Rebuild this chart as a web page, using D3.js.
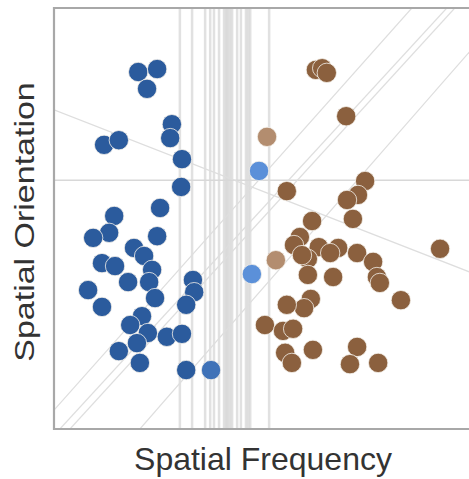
<!DOCTYPE html>
<html>
<head>
<meta charset="utf-8">
<script src="https://cdn.jsdelivr.net/npm/d3@7"></script>
<style>
  body { margin: 0; background: #fff; }
  svg { display: block; }
</style>
</head>
<body>
<div id="chart"></div>
<script>
'use strict';

// points, in data units (0-100 on both axes)
var blueX = [20.0, 24.5, 22.1, 28.0, 27.6, 11.9, 15.4, 30.4, 30.2, 25.2, 14.3, 13.1, 9.3, 24.5, 19.0, 21.4, 11.4, 14.5,
             23.3, 22.6, 17.6, 8.1, 24.0, 33.0, 33.3, 31.4, 11.4, 20.9, 18.1, 22.3, 19.7, 26.8, 30.4, 15.4, 20.4, 31.4];
var blueY = [84.8, 85.5, 80.8, 72.4, 69.1, 67.5, 68.6, 64.1, 57.5, 52.5, 50.6, 46.6, 45.4, 45.8, 43.0, 41.1, 39.4, 38.7,
             37.8, 34.9, 34.9, 33.0, 31.1, 35.4, 32.5, 29.5, 29.0, 26.8, 24.7, 22.8, 20.4, 21.9, 22.6, 18.5, 15.7, 14.0];
var lightBlueX = [37.3, 48.7, 47.0];
var lightBlueY = [14.0, 61.3, 36.8];
var lightBlueTone = [1, 2, 2];

var brownX = [62.2, 63.7, 64.8, 69.4, 55.3, 73.9, 72.2, 69.6, 61.3, 71.0, 91.7, 58.4, 57.0, 62.9, 67.5, 65.6, 60.3, 58.9,
              72.0, 75.8, 60.3, 66.3, 76.7, 77.4, 82.4, 61.0, 59.4, 55.3, 50.1, 54.4, 56.8, 61.5, 54.9, 56.5, 72.0, 70.3, 77.0];
var brownY = [85.3, 85.7, 84.6, 74.3, 56.5, 58.9, 55.6, 54.4, 49.4, 49.9, 42.8, 45.6, 43.7, 43.2, 43.0, 41.8, 40.4, 41.3,
              41.8, 39.7, 36.6, 36.1, 36.1, 34.7, 30.6, 30.9, 28.7, 29.5, 24.7, 23.3, 23.8, 18.8, 18.1, 15.7, 19.5, 15.4, 15.7];
var tanX = [50.6, 52.7];
var tanY = [69.4, 40.1];

// boundary lines
var verticalX = [29.9, 32.8, 35.9, 37.1, 38.0, 39.2, 40.4, 40.9, 41.3, 41.8, 42.3, 43.5, 44.4, 45.6, 46.1, 46.6, 51.1];
var horizontalY = [59.1];
var slantStart = [[0, 4.5], [1.4, 0], [3.8, 0], [20.4, 0], [0, 75.8]];
var slantEnd = [[85.0, 100], [93.3, 100], [95.2, 100], [100, 91.1], [100, 36.8]];

var width = 469, height = 479;
var marginLeft = 54, marginTop = 8, side = 421;

var svg = d3.select('#chart')
            .append('svg')
            .attr('width', width)
            .attr('height', height);

var x = d3.scaleLinear().domain([0, 100]).range([marginLeft, marginLeft + side]);
var y = d3.scaleLinear().domain([0, 100]).range([marginTop + side, marginTop]);

var colour = d3.scaleOrdinal()
               .domain(['blue', 'blue1', 'blue2', 'brown', 'tan'])
               .range(['#2b5b9d', '#3f72b8', '#5b90d9', '#8b603e', '#b38d6f']);

var points = [];
blueX.forEach(function (v, i) { points.push({x: v, y: blueY[i], g: 'blue'}); });
brownX.forEach(function (v, i) { points.push({x: v, y: brownY[i], g: 'brown'}); });
tanX.forEach(function (v, i) { points.push({x: v, y: tanY[i], g: 'tan'}); });
lightBlueX.forEach(function (v, i) { points.push({x: v, y: lightBlueY[i], g: 'blue' + lightBlueTone[i]}); });

var plot = svg.append('g');

plot.append('clipPath').attr('id', 'clip')
    .append('rect').attr('x', marginLeft).attr('y', marginTop).attr('width', side).attr('height', side);

var lines = plot.append('g').attr('clip-path', 'url(#clip)');

// vertical boundaries
lines.selectAll('line.v')
     .data(verticalX)
     .enter()
     .append('line')
     .attr('class', 'v')
     .attr('x1', function (d) { return x(d); })
     .attr('x2', function (d) { return x(d); })
     .attr('y1', y(0))
     .attr('y2', y(100))
     .style('stroke', '#c4c4c4')
     .style('stroke-opacity', 0.5)
     .style('stroke-width', 2.5);

lines.selectAll('line.h')
     .data(horizontalY)
     .enter()
     .append('line')
     .attr('class', 'h')
     .attr('x1', x(0))
     .attr('x2', x(100))
     .attr('y1', function (d) { return y(d); })
     .attr('y2', function (d) { return y(d); })
     .style('stroke', '#d8d8d8')
     .style('stroke-width', 1.5);

lines.selectAll('line.s')
     .data(slantStart)
     .enter()
     .append('line')
     .attr('class', 's')
     .attr('x1', function (d) { return x(d[0]); })
     .attr('y1', function (d) { return y(d[1]); })
     .attr('x2', function (d, i) { return x(slantEnd[i][0]); })
     .attr('y2', function (d, i) { return y(slantEnd[i][1]); })
     .style('stroke', '#dedede')
     .style('stroke-width', 1.2);

// frame: left, top and bottom edges
var frame = d3.path();
frame.moveTo(x(100) + 2, y(100));
frame.lineTo(x(0), y(100));
frame.lineTo(x(0), y(0));
frame.lineTo(x(100) + 2, y(0));
plot.append('path')
    .attr('d', frame.toString())
    .style('fill', 'none')
    .style('stroke', '#a8a8a8')
    .style('stroke-width', 2.2);

plot.selectAll('circle')
    .data(points)
    .enter()
    .append('circle')
    .attr('cx', function (d) { return x(d.x); })
    .attr('cy', function (d) { return y(d.y); })
    .attr('r', 9.7)
    .style('fill', function (d) { return colour(d.g); })
    .style('stroke', '#f4f0ea')
    .style('stroke-opacity', 0.8)
    .style('stroke-width', 1);

svg.append('text')
   .attr('x', 263)
   .attr('y', 470)
   .attr('text-anchor', 'middle')
   .style('font-family', 'Liberation Sans, Arial, sans-serif')
   .style('font-size', '32px')
   .style('fill', '#333')
   .text('Spatial Frequency');

svg.append('text')
   .attr('transform', 'translate(34,222) rotate(-90) scale(1,0.8)')
   .attr('text-anchor', 'middle')
   .style('font-family', 'Liberation Sans, Arial, sans-serif')
   .style('font-size', '34px')
   .style('fill', '#333')
   .text('Spatial Orientation');
</script>
</body>
</html>
